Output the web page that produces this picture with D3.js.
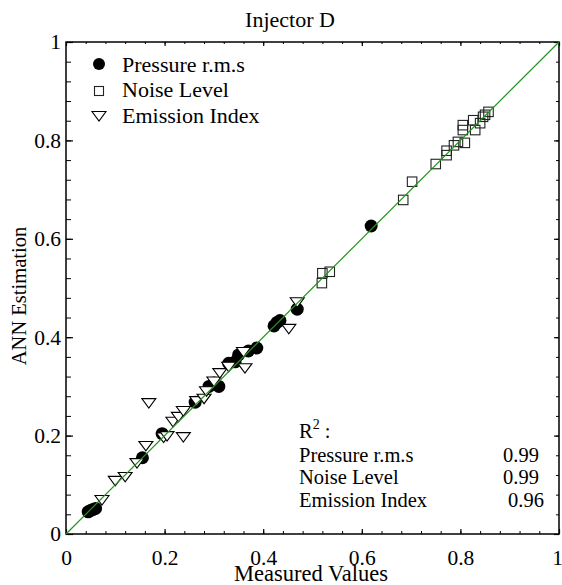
<!DOCTYPE html>
<html>
<head>
<meta charset="utf-8">
<script src="https://cdn.jsdelivr.net/npm/d3@7"></script>
<style>
  body { margin: 0; background: #fff; }
  svg text { font-family: "Liberation Serif", "DejaVu Serif", serif !important; fill: #000; }
</style>
</head>
<body>
<svg id="chart"></svg>
<script>
// measured vs estimated pairs
const pressure = [
  [0.045, 0.045], [0.05, 0.048], [0.055, 0.05], [0.06, 0.052],
  [0.155, 0.155], [0.195, 0.204], [0.262, 0.268], [0.29, 0.3],
  [0.3, 0.307], [0.31, 0.3], [0.33, 0.347], [0.343, 0.35],
  [0.35, 0.364], [0.37, 0.372], [0.387, 0.378], [0.422, 0.423],
  [0.428, 0.43], [0.434, 0.434], [0.469, 0.457], [0.619, 0.626]
];
const noise = [
  [0.519, 0.51], [0.52, 0.53], [0.535, 0.533], [0.684, 0.679],
  [0.702, 0.716], [0.75, 0.752], [0.772, 0.77], [0.772, 0.779],
  [0.787, 0.79], [0.795, 0.797], [0.809, 0.795], [0.805, 0.821],
  [0.805, 0.831], [0.826, 0.841], [0.83, 0.821], [0.84, 0.835],
  [0.846, 0.848], [0.85, 0.852], [0.857, 0.858]
];
const emission = [
  [0.073, 0.069], [0.1, 0.108], [0.12, 0.116], [0.144, 0.144],
  [0.162, 0.179], [0.168, 0.266], [0.198, 0.196], [0.205, 0.199],
  [0.217, 0.228], [0.228, 0.238], [0.238, 0.25], [0.238, 0.197],
  [0.265, 0.27], [0.28, 0.275], [0.285, 0.29], [0.3, 0.31],
  [0.312, 0.327], [0.33, 0.34], [0.363, 0.337], [0.36, 0.37],
  [0.452, 0.417], [0.469, 0.471]
];
const seriesNames = ['Pressure r.m.s', 'Noise Level', 'Emission Index'];
const r2Values = ['0.99', '0.99', '0.96'];
const majorTicks = [0, 0.2, 0.4, 0.6, 0.8, 1];
const minorTicks = d3.range(0, 1.0001, 0.04);

const W = 562, H = 585;
const margin = {top: 42, right: 3, bottom: 51, left: 66};
const width = W - margin.left - margin.right;
const height = H - margin.top - margin.bottom;
const FONT = '"Liberation Serif", "DejaVu Serif", serif';

const svg = d3.select('#chart').attr('width', W).attr('height', H);
const g = svg.append('g').attr('transform', `translate(${margin.left},${margin.top})`);

const x = d3.scaleLinear().domain([0, 1]).range([0, width]);
const y = d3.scaleLinear().domain([0, 1]).range([height, 0]);
const fmt = d => (d === 0 || d === 1) ? String(d) : d.toFixed(1);

// ticks on all four sides, pointing inwards
const axes = [
  {gen: d3.axisBottom, tr: `translate(0,${height})`, maj: -5, min: -3, scale: x, labels: true},
  {gen: d3.axisTop, tr: 'translate(0,0)', maj: -4, min: -2, scale: x},
  {gen: d3.axisLeft, tr: 'translate(0,0)', maj: -7, min: -5, scale: y, labels: true},
  {gen: d3.axisRight, tr: `translate(${width},0)`, maj: -5, min: -3, scale: y}
];
axes.forEach(a => {
  g.append('g').attr('transform', a.tr)
    .call(a.gen(a.scale).tickValues(minorTicks).tickSize(a.min).tickFormat(''))
    .call(s => s.select('.domain').remove());
  const maj = g.append('g').attr('transform', a.tr)
    .call(a.gen(a.scale).tickValues(majorTicks).tickSize(a.maj).tickFormat(a.labels ? fmt : ''))
    .call(s => s.select('.domain').remove())
    .attr('font-family', FONT);
  maj.selectAll('line').attr('stroke-width', 1.2);
  g.selectAll('.tick line').attr('stroke', '#000');
  if (a.gen === d3.axisBottom) {
    maj.selectAll('text').attr('y', 31).attr('dy', null).style('font-size', '21.5px')
      .attr('dx', d => d === 1 ? -2 : null);
  } else if (a.gen === d3.axisLeft) {
    maj.selectAll('text').attr('x', -5).attr('dy', '0.32em').style('font-size', '21.5px');
  }
});

g.append('rect').attr('width', width).attr('height', height)
  .attr('fill', 'none').attr('stroke', '#000').attr('stroke-width', 1.5);

// markers
g.selectAll('.pr').data(pressure).join('circle').attr('class', 'pr')
  .attr('cx', d => x(d[0])).attr('cy', d => y(d[1])).attr('r', 6.5).attr('fill', '#000');

const sq = 9.5;
g.selectAll('.nl').data(noise).join('rect').attr('class', 'nl')
  .attr('x', d => x(d[0]) - sq / 2).attr('y', d => y(d[1]) - sq / 2)
  .attr('width', sq).attr('height', sq)
  .attr('fill', 'none').attr('stroke', '#222').attr('stroke-width', 1.1);

const tri = (cx, cy) => `M${cx - 7},${cy - 4.5}L${cx + 7},${cy - 4.5}L${cx},${cy + 5}Z`;
g.selectAll('.ei').data(emission).join('path').attr('class', 'ei')
  .attr('d', d => tri(x(d[0]), y(d[1])))
  .attr('fill', '#fff').attr('stroke', '#000').attr('stroke-width', 1.1);

// 1:1 line
g.append('line').attr('x1', x(0)).attr('y1', y(0)).attr('x2', x(1)).attr('y2', y(1))
  .attr('stroke', '#1f961f').attr('stroke-width', 1.2);

// legend
const leg = svg.append('g').attr('transform', 'translate(99,0)');
const legY = [72, 97, 123];
leg.append('circle').attr('cx', 0).attr('cy', legY[0] - 8).attr('r', 6).attr('fill', '#000');
leg.append('rect').attr('x', -4.5).attr('y', legY[1] - 10.5).attr('width', 9).attr('height', 9)
  .attr('fill', 'none').attr('stroke', '#222').attr('stroke-width', 1.1);
leg.append('path').attr('d', tri(0, legY[2] - 7)).attr('fill', '#fff').attr('stroke', '#000').attr('stroke-width', 1.1);
leg.selectAll('.lt').data(seriesNames).join('text').attr('class', 'lt')
  .attr('x', 23).attr('y', (d, i) => legY[i]).style('font-size', '22px').text(d => d);

// R^2 block
const r2 = svg.append('g');
const r2t = r2.append('text').attr('x', 299).attr('y', 438).style('font-size', '20.5px');
r2t.append('tspan').text('R');
r2t.append('tspan').attr('dy', -9).style('font-size', '14px').text('2');
r2t.append('tspan').attr('dy', 9).text(' :');
const rowY = [462, 484, 507];
const valX = [503, 503, 508];
r2.selectAll('.rn').data(seriesNames).join('text').attr('class', 'rn')
  .attr('x', 299).attr('y', (d, i) => rowY[i]).style('font-size', '20.5px').text(d => d);
r2.selectAll('.rv').data(r2Values).join('text').attr('class', 'rv')
  .attr('x', (d, i) => valX[i]).attr('y', (d, i) => rowY[i]).style('font-size', '20.5px').text(d => d);

// titles
svg.append('text').attr('x', 290).attr('y', 27).attr('text-anchor', 'middle')
  .style('font-size', '22px').text('Injector D');
svg.append('text').attr('x', 311).attr('y', 581).attr('text-anchor', 'middle')
  .style('font-size', '22.5px').text('Measured Values');
svg.append('text').attr('transform', 'translate(26,296) rotate(-90)').attr('text-anchor', 'middle')
  .style('font-size', '20.5px').text('ANN Estimation');

svg.selectAll('text').style('font-family', FONT);
</script>
</body>
</html>
